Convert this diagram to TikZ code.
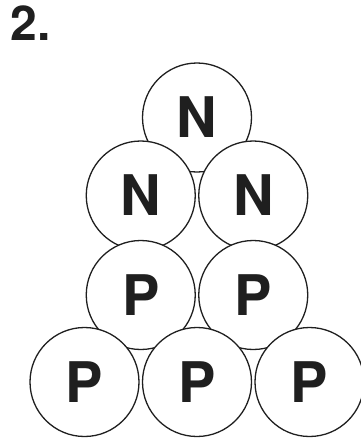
\documentclass[tikz,border=0pt]{standalone}
\usepackage{fontspec}
\setmainfont{TeX Gyre Heros}
\begin{document}
\begin{tikzpicture}[x=1pt,y=-1pt,
  ball/.style={circle, draw=black!88, fill=white, line width=1.3pt, minimum size=109pt, inner sep=0pt,
    font=\fontsize{56}{56}\selectfont\bfseries, text=black!88},
  title/.style={anchor=base west, inner sep=0pt, font=\fontsize{48}{48}\selectfont\bfseries, text=black!88}]
\useasboundingbox (0,0) rectangle (361,440);
\begin{scope}
\clip (0,0) rectangle (361,440);
\node[title] (t) at (10.5,40.7) {2.};
\node[ball] (n1) at (197,117.5) {N};
\node[ball] (n2) at (140.75,195.5) {N};
\node[ball] (n3) at (253.25,195.5) {N};
\node[ball] (p1) at (140.75,295) {P};
\node[ball] (p2) at (253.25,295) {P};
\node[ball] (p3) at (84.5,382) {P};
\node[ball] (p4) at (197,382) {P};
\node[ball] (p5) at (309.5,382) {P};
\end{scope}
\end{tikzpicture}
\end{document}
